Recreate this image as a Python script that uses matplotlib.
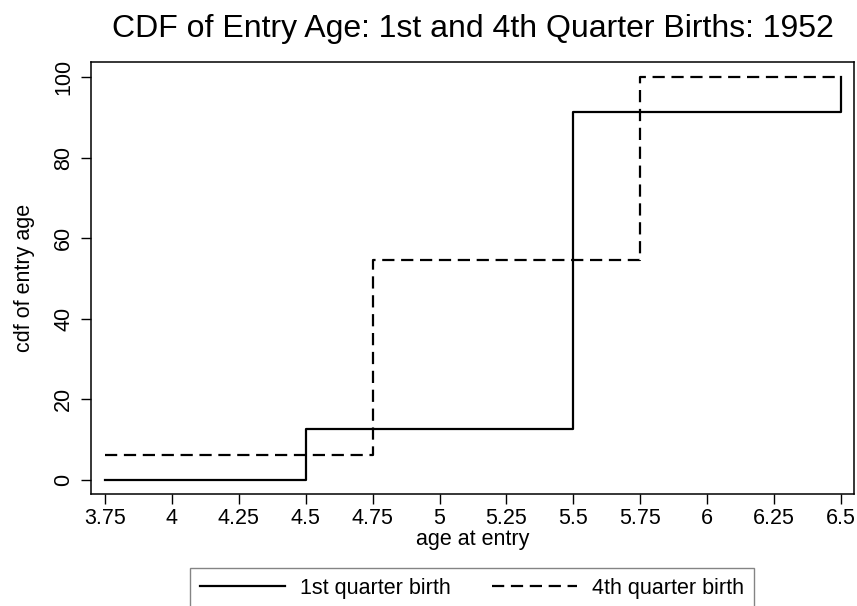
import numpy as np
import matplotlib
matplotlib.use("Agg")
import matplotlib.pyplot as plt

# step points (cdf in percent)
q1_age = [3.75, 4.5, 5.5, 6.5]
q1_cdf = [0.0, 12.7, 91.3, 100.0]

q4_age = [3.75, 4.75, 5.75, 6.5]
q4_cdf = [6.1, 54.5, 100.0, 100.0]

x_ticks = [3.75, 4, 4.25, 4.5, 4.75, 5, 5.25, 5.5, 5.75, 6, 6.25, 6.5]
x_labels = ["3.75", "4", "4.25", "4.5", "4.75", "5", "5.25", "5.5", "5.75", "6", "6.25", "6.5"]
y_ticks = [0, 20, 40, 60, 80, 100]

plt.rcParams["font.family"] = ["Liberation Sans", "DejaVu Sans"]

fig = plt.figure(figsize=(8.57, 6.06), dpi=100)
ax = fig.add_axes([91 / 857, 1 - 494 / 606, (854 - 91) / 857, (494 - 62) / 606])

ax.step(q1_age, q1_cdf, where="post", color="black", lw=1.6, label="1st quarter birth")
ax.step(q4_age, q4_cdf, where="post", color="black", lw=1.6, dashes=(5.5, 3),
        label="4th quarter birth")

ax.set_xlim(3.6977, 6.5486)
ax.set_ylim(-3.5, 103.7)
ax.set_xticks(x_ticks)
ax.set_xticklabels(x_labels)
ax.set_yticks(y_ticks)
for lab in ax.get_yticklabels():
    lab.set_rotation(90)
    lab.set_va("center")

ax.tick_params(axis="both", labelsize=15.5, length=7, width=1, direction="out", color="black")
ax.tick_params(axis="x", pad=3)
ax.tick_params(axis="y", pad=5)
for sp in ax.spines.values():
    sp.set_linewidth(1.1)

ax.set_xlabel("age at entry", fontsize=15.5, labelpad=0)
ax.set_ylabel("cdf of entry age", fontsize=15.5, labelpad=13)
ax.set_title("CDF of Entry Age: 1st and 4th Quarter Births: 1952", fontsize=23, pad=18)

leg = fig.legend(loc="upper center", bbox_to_anchor=(472 / 857, 1 - 568 / 606), ncol=2,
                 fontsize=15.5, frameon=True, fancybox=False, handlelength=3.95,
                 handletextpad=0.7, columnspacing=1.95, borderpad=0.45, borderaxespad=0)
leg.get_frame().set_edgecolor("0.4")
leg.get_frame().set_linewidth(1.0)

fig.savefig("out.png", dpi=100)
